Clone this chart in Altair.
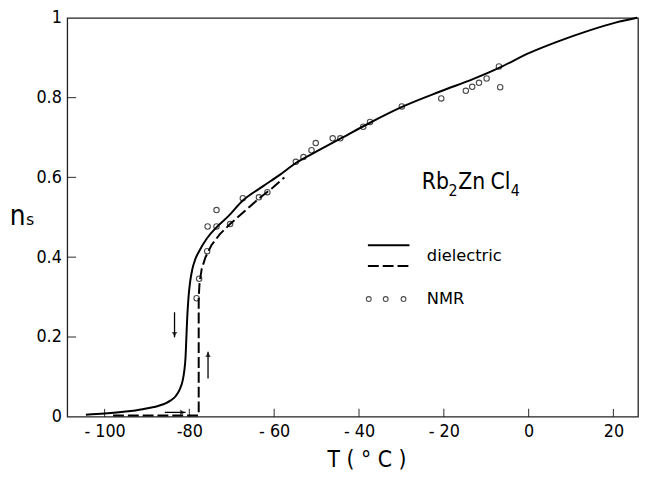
import altair as alt
import pandas as pd

# ---- data ----
# dielectric, solid curve
solid_T = [-104.4, -100, -95, -91, -87.4, -85.5, -84.4, -83.2, -82.3, -81.6, -81.2, -80.9,
           -80.7, -80.5, -80.2, -79.8, -79.3, -78.6, -77.7, -75.8, -73.5, -70.8, -67.4,
           -62.6, -58.6, -54.9, -50.0, -44.4, -37.4, -30.0, -20.7, -13.0, -6.7, 0.2, 6.5,
           14.2, 20.5, 25.6]
solid_n = [0.005, 0.008, 0.013, 0.019, 0.027, 0.034, 0.041, 0.052, 0.068, 0.09, 0.115, 0.15,
           0.2, 0.25, 0.3, 0.34, 0.37, 0.395, 0.415, 0.448, 0.476, 0.503, 0.542,
           0.578, 0.607, 0.636, 0.665, 0.697, 0.737, 0.776, 0.816, 0.847, 0.876, 0.912, 0.939,
           0.968, 0.988, 1.0]
# dielectric, dashed curve
dashed_T = [-98, -77.8, -77.8, -77.6, -77.1, -76.2, -74.8, -72.8, -70.4, -67.0, -63.6, -60.5, -57.6]
dashed_n = [0.003, 0.003, 0.30, 0.335, 0.37, 0.40, 0.43, 0.458, 0.483, 0.515, 0.547, 0.573, 0.600]
# NMR points
nmr_T = [-78.3, -77.7, -75.8, -75.7, -73.6, -73.6, -70.4, -67.4, -63.6, -61.6, -54.9, -53.1,
         -51.2, -50.2, -46.2, -44.4, -39.0, -37.4, -29.9, -20.6, -14.8, -13.3, -11.7, -9.9,
         -7.0, -6.7]
nmr_n = [0.297, 0.346, 0.415, 0.477, 0.477, 0.518, 0.483, 0.548, 0.550, 0.563, 0.639, 0.651,
         0.668, 0.686, 0.698, 0.698, 0.727, 0.739, 0.778, 0.798, 0.817, 0.827, 0.837, 0.848,
         0.878, 0.826]

x_ticks = [-100, -80, -60, -40, -20, 0, 20]
x_tick_labels = ["- 100", "-80", "- 60", "- 40", "- 20", "0", "20"]
y_ticks = [0, 0.2, 0.4, 0.6, 0.8, 1]
y_tick_labels = ["0", "0.2", "0.4", "0.6", "0.8", "1"]

x_domain = [-108.8, 25.8]
y_domain = [0, 1]

# annotations
legend_line_T = [-37.9, -28.1]
legend_solid_n = 0.430
legend_dashed_n = 0.378
legend_circle_T = [-37.7, -33.7, -29.5]
legend_circle_n = 0.295
legend_text_T = -24.0
legend_text = ["dielectric", "NMR"]
legend_text_n = [0.403, 0.295]

formula_parts = ["Rb", "2", "Zn", "Cl", "4"]
formula_T = [-25.2, -18.9, -16.6, -9.0, -4.2]
formula_n = [0.570, 0.553, 0.570, 0.570, 0.553]
formula_sub = [False, True, False, False, True]

arrow_v_T = [-83.5, -75.6]
arrow_v_from = [0.262, 0.096]
arrow_v_to = [0.199, 0.163]
arrow_h_T = [-85.8, -80.9]
arrow_h_n = 0.011

FONT = "DejaVu Sans Condensed, sans-serif"
TXT_FONT = "DejaVu Sans, sans-serif"
W, H = 578, 404

def label_expr(vals, labs):
    parts = [f"datum.value == {v} ? '{l}'" for v, l in zip(vals, labs)]
    return " : ".join(parts) + " : datum.label"

xscale = alt.Scale(domain=x_domain, nice=False, zero=False)
yscale = alt.Scale(domain=y_domain, nice=False, zero=False)

X = alt.X("T:Q", scale=xscale, axis=alt.Axis(
    values=x_ticks, labelExpr=label_expr(x_ticks, x_tick_labels), ticks=False, domain=False,
    grid=False, labelFont=FONT, labelFontSize=18, labelColor="black", labelPadding=6,
    title="T ( ° C )", titleFont=FONT, titleFontSize=23, titleFontWeight="normal",
    titleColor="black", titleX=303, titleY=43, titleBaseline="middle", titleAlign="center"))
Y = alt.Y("n:Q", scale=yscale, axis=alt.Axis(
    values=y_ticks, labelExpr=label_expr(y_ticks, y_tick_labels), ticks=False, domain=False,
    grid=False, labelFont=FONT, labelFontSize=18, labelColor="black", labelPadding=6,
    title="nₛ", titleFont=FONT, titleFontSize=28, titleFontWeight="normal", titleColor="black",
    titleAngle=0, titleX=-46, titleY=201, titleAlign="center", titleBaseline="middle"))

solid_df = pd.DataFrame({"T": solid_T, "n": solid_n})
dashed_df = pd.DataFrame({"T": dashed_T, "n": dashed_n, "o": list(range(len(dashed_T)))})
nmr_df = pd.DataFrame({"T": nmr_T, "n": nmr_n})

solid = alt.Chart(solid_df).mark_line(color="black", strokeWidth=2, interpolate="monotone").encode(x=X, y=Y)
dashed = alt.Chart(dashed_df).mark_line(color="black", strokeWidth=2, strokeDash=[11, 4]).encode(
    x=X, y=Y, order="o:Q")
nmr = alt.Chart(nmr_df).mark_point(shape="circle", filled=False, color="black", size=30,
                                   strokeWidth=1.1).encode(x=X, y=Y)

xt_df = pd.DataFrame({"T": x_ticks, "n": [0] * len(x_ticks)})
xtick = alt.Chart(xt_df).mark_tick(orient="vertical", size=8, thickness=1.2, yOffset=-4,
                                   color="black").encode(x=X, y=Y)
yt_df = pd.DataFrame({"T": [x_domain[0]] * 4, "n": y_ticks[1:5]})
ytick = alt.Chart(yt_df).mark_tick(orient="horizontal", size=9, thickness=1.2, xOffset=4.5,
                                   color="black").encode(x=X, y=Y)

# legend
leg_df = pd.DataFrame({"T": [legend_line_T[0], legend_line_T[0]],
                       "T2": [legend_line_T[1], legend_line_T[1]],
                       "n": [legend_solid_n, legend_dashed_n],
                       "kind": ["solid", "dashed"]})
leg_solid = alt.Chart(leg_df[leg_df.kind == "solid"]).mark_rule(color="black", strokeWidth=2).encode(
    x=X, x2="T2:Q", y=Y)
leg_dash = alt.Chart(leg_df[leg_df.kind == "dashed"]).mark_rule(color="black", strokeWidth=2,
                                                                strokeDash=[11, 4]).encode(x=X, x2="T2:Q", y=Y)
leg_c_df = pd.DataFrame({"T": legend_circle_T, "n": [legend_circle_n] * 3})
leg_circ = alt.Chart(leg_c_df).mark_point(shape="circle", filled=False, color="black", size=24,
                                          strokeWidth=1.1).encode(x=X, y=Y)
leg_t_df = pd.DataFrame({"T": [legend_text_T] * 2, "n": legend_text_n, "label": legend_text})
leg_text = alt.Chart(leg_t_df).mark_text(align="left", baseline="middle", font=TXT_FONT,
                                         fontSize=16.5, color="black").encode(x=X, y=Y, text="label:N")

# formula
f_df = pd.DataFrame({"T": formula_T, "n": formula_n, "label": formula_parts, "sub": formula_sub})
f_main = alt.Chart(f_df[~f_df["sub"]]).mark_text(align="left", baseline="alphabetic", font=FONT,
                                                 fontSize=23, color="black").encode(x=X, y=Y, text="label:N")
f_sub = alt.Chart(f_df[f_df["sub"]]).mark_text(align="left", baseline="alphabetic", font=FONT,
                                               fontSize=16, color="black").encode(x=X, y=Y, text="label:N")

# arrows
av_df = pd.DataFrame({"T": arrow_v_T, "n": arrow_v_from, "n2": arrow_v_to})
av_line = alt.Chart(av_df).mark_rule(color="black", strokeWidth=1.3).encode(x=X, y=Y, y2="n2:Q")
head_down = alt.Chart(av_df.iloc[[0]]).mark_point(shape="triangle-down", filled=True, color="black",
                                                  size=32, yOffset=-3).encode(
    x=X, y=alt.Y("n2:Q", scale=yscale))
head_up = alt.Chart(av_df.iloc[[1]]).mark_point(shape="triangle-up", filled=True, color="black",
                                                size=32, yOffset=3).encode(
    x=X, y=alt.Y("n2:Q", scale=yscale))
ah_df = pd.DataFrame({"T": [arrow_h_T[0]], "T2": [arrow_h_T[1]], "n": [arrow_h_n]})
ah_line = alt.Chart(ah_df).mark_rule(color="black", strokeWidth=1.3).encode(x=X, x2="T2:Q", y=Y)
head_right = alt.Chart(ah_df).mark_point(shape="triangle-right", filled=True, color="black",
                                         size=32, xOffset=-3).encode(
    x=alt.X("T2:Q", scale=xscale), y=Y)

chart = alt.layer(
    solid, dashed, nmr, xtick, ytick, leg_solid, leg_dash, leg_circ, leg_text, f_main, f_sub,
    av_line, head_down, head_up, ah_line, head_right
).properties(
    width=W, height=H,
    autosize=alt.AutoSizeParams(type="none"),
    padding={"left": 60, "top": 7, "right": 1, "bottom": 55},
    background="white"
).configure_view(stroke="#222222", strokeWidth=1.3)

chart.save("out.html", embed_options={"renderer": "svg", "actions": False})
